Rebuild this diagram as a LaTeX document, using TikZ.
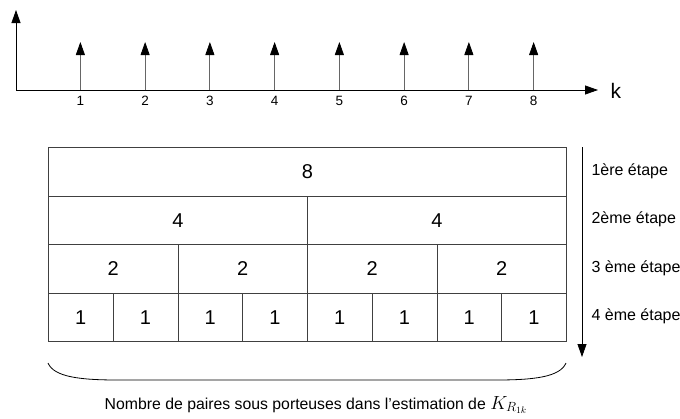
\documentclass[tikz,border=0pt]{standalone}
\usepackage{fix-cm}
\usepackage{fontspec}
\setmainfont{Liberation Sans}
\usetikzlibrary{arrows.meta,positioning}
\tikzset{
  tip/.style={-{Triangle[length=13pt,width=9pt,color=black]}},
  impulse/.style={tip,line width=0.8pt,black!60},
  cell/.style={draw=black!75,line width=0.8pt,inner sep=0pt,minimum height=48.5pt,
    anchor=north west,font=\fontsize{20}{22}\selectfont},
  stagelbl/.style={anchor=west,font=\fontsize{16}{18}\selectfont},
}

\begin{document}
\begin{tikzpicture}[x=1pt,y=-1pt]
  \useasboundingbox (0,0) rectangle (680,418);
  % axes
  \coordinate (O) at (16,90);
  \coordinate (ytop) at (16,10);
  \coordinate (xend) at (598,90);
  \draw[tip,line width=0.8pt] (O) -- (ytop);
  \draw[tip,line width=0.8pt] (O) -- (xend);
  \node[anchor=west,font=\fontsize{21}{22}\selectfont] (klbl) at (607,91) {k};
  \foreach \i in {1,...,8} {
    \coordinate (b\i) at ({48+64.75*(\i-0.5)},90);
    \coordinate (t\i) at ({48+64.75*(\i-0.5)},42);
    \draw[impulse] (b\i) -- (t\i);
    \node[font=\fontsize{13.5}{15}\selectfont,below=3pt of b\i] (n\i) {\i};
  }
  % table
  \foreach \r/\v in {0/8,1/4,2/2,3/1} {
    \pgfmathsetmacro\w{518/2^\r}
    \pgfmathtruncatemacro\nc{2^\r}
    \foreach \c in {1,...,\nc}
      \node[cell,minimum width=\w pt] (cell\r-\c) at ({48+(\c-1)*\w},{147+48.5*\r}) {\v};
  }
  \foreach \r/\txt in {0/1ère étape,1/2ème étape,2/3 ème étape,3/4 ème étape}
    \node[stagelbl] (stage\r) at (588,{171.25+48.5*\r}) {\txt};
  \coordinate (s0) at (582,147);
  \coordinate (s1) at (582,357);
  \draw[tip,line width=0.8pt] (s0) -- (s1);
  % brace
  \coordinate (bl) at (48,363);
  \coordinate (br) at (566,363);
  \draw[line width=0.8pt] (bl) .. controls (54,377) and (80,380) .. (118,380)
    -- (496,380) .. controls (534,380) and (560,377) .. (br);
  \node[font=\fontsize{15.8}{18}\selectfont] (caption) at (316,405)
    {Nombre de paires sous porteuses dans l'estimation de {\fontsize{19}{21}\selectfont$K_{R_{1k}}$}};
\end{tikzpicture}
\end{document}
